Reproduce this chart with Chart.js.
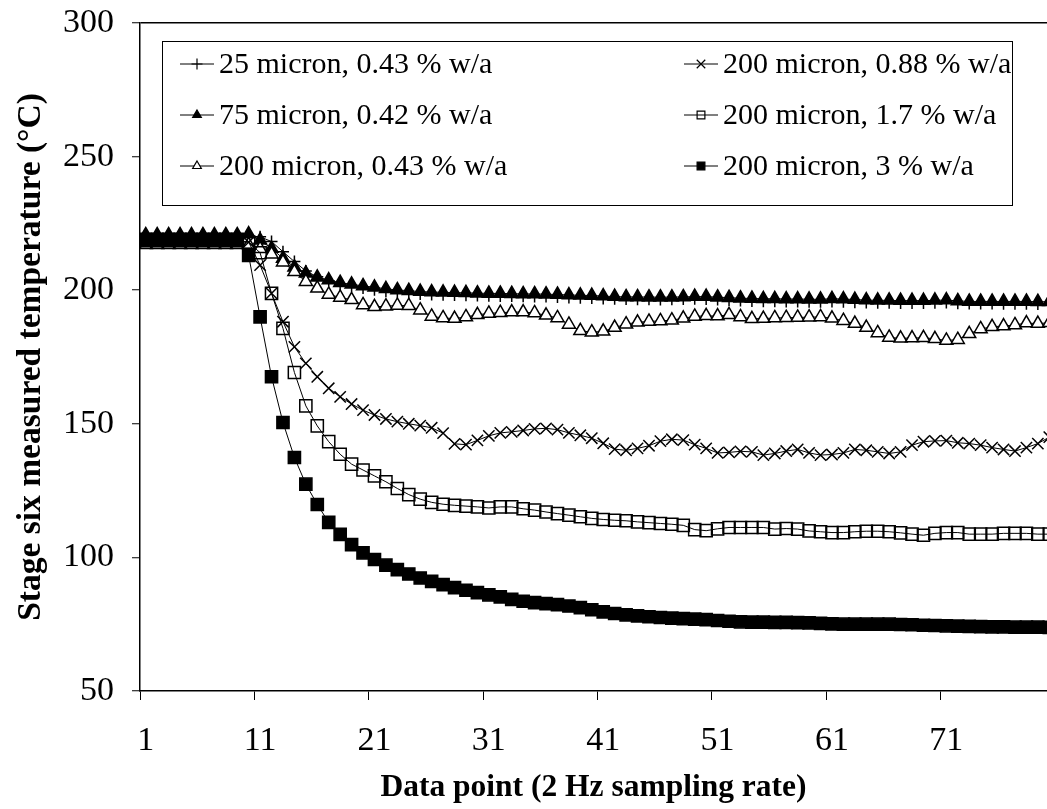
<!DOCTYPE html>
<html>
<head>
<meta charset="utf-8">
<script src="https://cdn.jsdelivr.net/npm/chart.js@4.4.0/dist/chart.umd.min.js"></script>
<style>
  html, body { margin: 0; padding: 0; background: #fff; overflow: hidden; }
  canvas { display: block; }
</style>
</head>
<body>
<canvas id="myChart" width="1047" height="809"></canvas>
<script>
// Datenpunkte (2 Hz)
const dataPoints = [
  1, 2, 3, 4, 5, 6, 7, 8, 9, 10,
  11, 12, 13, 14, 15, 16, 17, 18, 19, 20,
  21, 22, 23, 24, 25, 26, 27, 28, 29, 30,
  31, 32, 33, 34, 35, 36, 37, 38, 39, 40,
  41, 42, 43, 44, 45, 46, 47, 48, 49, 50,
  51, 52, 53, 54, 55, 56, 57, 58, 59, 60,
  61, 62, 63, 64, 65, 66, 67, 68, 69, 70,
  71, 72, 73, 74, 75, 76, 77, 78, 79, 80
];
const xTickPositions = [0.5, 10.5, 20.5, 30.5, 40.5, 50.5, 60.5, 70.5];
const xTickLabels = ['1', '11', '21', '31', '41', '51', '61', '71'];

const seriesLabels = [
  '25 micron, 0.43 % w/a',
  '75 micron, 0.42 % w/a',
  '200 micron, 0.43 % w/a',
  '200 micron, 0.88 % w/a',
  '200 micron, 1.7 % w/a',
  '200 micron, 3 % w/a'
];

// 25 micron, 0.43 % w/a
const temp25_043 = [
  219.5, 219.5, 219.5, 219.5, 219.5, 219.5, 219.5, 219.5, 219.5, 220,
  220, 218.2, 214.4, 210.7, 207.2, 205, 203.5, 202.3, 201.5, 200.8,
  200.2, 199.6, 199.2, 198.9, 198.6, 198.4, 198.3, 198.2, 198.1, 198,
  197.9, 197.8, 197.8, 197.7, 197.6, 197.6, 197.5, 197.3, 197.2, 197.1,
  196.9, 196.8, 196.7, 196.6, 196.6, 196.5, 196.6, 196.7, 196.8, 196.7,
  196.5, 196.3, 196.1, 196, 195.9, 195.9, 195.8, 195.8, 195.7, 195.7,
  195.8, 195.7, 195.5, 195.4, 195.3, 195.3, 195.2, 195.2, 195.2, 195.3,
  195.4, 195.1, 195, 195, 195, 194.9, 194.9, 194.9, 194.8, 194.8
];
// 75 micron, 0.42 % w/a
const temp75_042 = [
  220.7, 220.7, 220.7, 220.7, 220.7, 220.7, 220.7, 220.7, 220.7, 221,
  218.7, 215.6, 211.9, 208.6, 206.3, 204.8, 203.8, 202.8, 202.2, 201.6,
  201.1, 200.5, 200.1, 199.8, 199.5, 199.3, 199.2, 199.1, 199, 198.9,
  198.8, 198.8, 198.7, 198.6, 198.6, 198.5, 198.4, 198.2, 198.1, 198,
  197.8, 197.6, 197.5, 197.5, 197.4, 197.4, 197.4, 197.5, 197.6, 197.6,
  197.4, 197.2, 197, 196.9, 196.8, 196.8, 196.7, 196.7, 196.6, 196.6,
  196.8, 196.7, 196.5, 196.3, 196.2, 196.2, 196.1, 196.1, 196.1, 196.2,
  196.3, 196, 195.8, 195.8, 195.8, 195.8, 195.8, 195.8, 195.7, 195.7
];
// 200 micron, 0.43 % w/a
const temp200_043 = [
  217, 217, 217, 217, 217, 217, 217, 217, 217, 217,
  215.5, 213.5, 210.5, 206.9, 203.2, 200.7, 198.4, 197.3, 196.4, 194.5,
  193.8, 194, 194.3, 194.2, 192.5, 190.2, 189.6, 189.4, 190, 190.8,
  191.3, 191.6, 191.8, 191.8, 191.5, 190.6, 189.6, 187.2, 184.8, 184.3,
  184.6, 186, 187.3, 188, 188.3, 188.5, 188.8, 189.5, 190.2, 190.4,
  190.3, 190.8, 190, 189.3, 189.4, 189.6, 189.7, 189.8, 189.9, 190,
  189.5, 188.6, 187.5, 186, 184, 182.3, 182, 182.1, 182.2, 181.8,
  181.2, 181.5, 183.7, 185.5, 186.3, 186.6, 187, 187.7, 187.5, 187.8
];
// 200 micron, 0.88 % w/a
const temp200_088 = [
  218, 218, 218, 218, 218, 218, 218, 218, 218, 218,
  209.4, 198.8, 188.2, 178.8, 172.6, 167.6, 163.3, 160.1, 157.4, 155.1,
  153.3, 151.8, 150.8, 150, 149.3, 148.5, 146.5, 142.5, 142.2, 143.8,
  145.5, 146.6, 147, 147.5, 148.1, 148.3, 147.8, 146.6, 145.7, 144.6,
  142.7, 140.5, 140.1, 140.8, 141.8, 143.5, 144.2, 143.9, 142.2, 140.8,
  139.1, 139.3, 139.7, 139.5, 138.3, 138.9, 139.8, 140.4, 139.1, 138.3,
  138.5, 139.1, 140.4, 140.1, 139.5, 138.9, 139.5, 142, 143.3, 143.6,
  143.7, 142.9, 142.6, 142, 141.1, 140.4, 139.8, 141.1, 142.6, 145
];
// 200 micron, 1.7 % w/a
const temp200_17 = [
  218.5, 218.5, 218.5, 218.5, 218.5, 218.5, 218.5, 218.5, 218.5, 218,
  214, 198.8, 185.7, 169.2, 156.7, 149.2, 143.3, 138.6, 134.9, 132.7,
  130.5, 128.3, 125.8, 123.5, 121.8, 120.6, 119.9, 119.5, 119.2, 118.9,
  118.5, 118.9, 118.9, 118.2, 117.7, 117, 116.4, 115.8, 115.2, 114.6,
  114.2, 113.9, 113.7, 113.3, 113, 112.7, 112.4, 112, 110.4, 110,
  110.7, 111.2, 111.2, 111.2, 111.2, 110.6, 110.8, 110.6, 109.9, 109.6,
  109.3, 109.3, 109.6, 109.8, 109.8, 109.6, 109.2, 108.7, 108.3, 109,
  109.3, 109.3, 108.7, 108.7, 108.7, 109, 109, 109, 108.7, 108.7
];
// 200 micron, 3 % w/a
const temp200_3 = [
  219, 219, 219, 219, 219, 219, 219, 219, 219, 213,
  190, 167.6, 150.5, 137.4, 127.4, 119.8, 113.1, 108.6, 104.8, 101.7,
  99.2, 97.1, 95.4, 93.8, 92.3, 91, 89.8, 88.7, 87.7, 86.8,
  86, 85.2, 84.3, 83.6, 83.1, 82.7, 82.3, 81.8, 81.2, 80.4,
  79.6, 79, 78.5, 78.1, 77.8, 77.5, 77.3, 77.1, 76.9, 76.7,
  76.4, 76.1, 75.9, 75.8, 75.8, 75.7, 75.7, 75.6, 75.5, 75.3,
  75.1, 75, 75, 75, 75, 75, 74.9, 74.8, 74.6, 74.5,
  74.4, 74.3, 74.2, 74.1, 74, 74, 73.9, 73.9, 73.9, 73.8
];

const seriesValues = [temp25_043, temp75_042, temp200_043, temp200_088, temp200_17, temp200_3];

// Markierungen wie im Excel-Original
const markerStyles = [
  { pointStyle: 'cross', radius: 6, fill: '#000', legendRadius: 5.5 },
  { pointStyle: 'triangle', radius: 7.5, fill: '#000', legendRadius: 5 },
  { pointStyle: 'triangle', radius: 7.5, fill: '#fff', legendRadius: 5 },
  { pointStyle: 'crossRot', radius: 8, fill: '#000', legendRadius: 6 },
  { pointStyle: 'rect', radius: 8.6, fill: 'rgba(0,0,0,0)', legendRadius: 5.5 },
  { pointStyle: 'rect', radius: 8.6, fill: '#000', legendRadius: 5.5 }
];

const FONT = '"Liberation Serif", "Times New Roman", serif';

const datasets = seriesValues.map((values, i) => ({
  label: seriesLabels[i],
  data: dataPoints.map((x, j) => ({ x: x, y: values[j] })),
  borderColor: '#000',
  borderWidth: 1,
  pointStyle: markerStyles[i].pointStyle,
  pointRadius: markerStyles[i].radius,
  pointBackgroundColor: markerStyles[i].fill,
  pointBorderColor: '#000',
  pointBorderWidth: 1.5,
  tension: 0,
  order: seriesValues.length - i
}));

// Legende im Diagrammbereich (2 Spalten, Rahmen)
const boxLegend = {
  id: 'boxLegend',
  afterDraw(chart) {
    const ctx = chart.ctx;
    const a = chart.chartArea;
    const bx = a.left + 22, by = a.top + 18, bw = 850, bh = 164;
    ctx.save();
    ctx.fillStyle = '#fff';
    ctx.fillRect(bx, by, bw, bh);
    ctx.strokeStyle = '#000';
    ctx.lineWidth = 1;
    ctx.strokeRect(bx + 0.5, by + 0.5, bw, bh);
    ctx.font = '30px ' + FONT;
    ctx.textBaseline = 'middle';
    ctx.textAlign = 'left';
    chart.data.datasets.forEach((ds, i) => {
      const col = Math.floor(i / 3), row = i % 3;
      const lx = col === 0 ? bx + 18 : bx + 522;
      const ly = by + 23 + row * 51;
      ctx.strokeStyle = '#000';
      ctx.lineWidth = 1;
      ctx.beginPath();
      ctx.moveTo(lx, ly);
      ctx.lineTo(lx + 34, ly);
      ctx.stroke();
      ctx.fillStyle = markerStyles[i].fill;
      ctx.lineWidth = 1.2;
      Chart.helpers.drawPoint(ctx, {
        pointStyle: markerStyles[i].pointStyle,
        radius: markerStyles[i].legendRadius,
        rotation: 0,
        borderWidth: 1.2
      }, lx + 17, ly);
      ctx.fillStyle = '#000';
      ctx.fillText(ds.label, lx + 39, ly + 1);
    });
    ctx.restore();
  }
};

const ctx = document.getElementById('myChart').getContext('2d');

new Chart(ctx, {
  type: 'line',
  data: { datasets: datasets },
  options: {
    responsive: false,
    animation: false,
    devicePixelRatio: 1,
    layout: { autoPadding: false, padding: { top: 23, right: 0, bottom: 0, left: 0 } },
    plugins: {
      legend: { display: false },
      tooltip: { enabled: false }
    },
    scales: {
      x: {
        type: 'linear',
        min: 0.5,
        max: 79.8,
        afterBuildTicks: s => { s.ticks = xTickPositions.map(v => ({ value: v })); },
        afterFit: s => { s.height = 118; s.paddingLeft = 0; s.paddingRight = 0; },
        border: { color: '#000', width: 1.5 },
        grid: { drawOnChartArea: false, drawTicks: true, tickLength: 9, tickColor: '#000', tickWidth: 1 },
        ticks: {
          callback: (v, i) => xTickLabels[i],
          labelOffset: 5.7,
          padding: 21,
          maxRotation: 0,
          autoSkip: false,
          color: '#000',
          font: { family: FONT, size: 34 }
        },
        title: {
          display: true,
          text: 'Data point (2 Hz sampling rate)',
          color: '#000',
          font: { family: FONT, size: 31.5, weight: 'bold' },
          padding: { top: 0, bottom: 2 }
        }
      },
      y: {
        min: 50,
        max: 300,
        afterFit: s => { s.width = 140; s.paddingTop = 0; s.paddingBottom = 0; },
        border: { color: '#000', width: 1.5 },
        grid: {
          color: c => (c.tick && c.tick.value === 300 ? '#000' : 'rgba(0,0,0,0)'),
          lineWidth: 1.5,
          tickColor: '#000',
          tickLength: 8,
          tickWidth: 1
        },
        ticks: {
          stepSize: 50,
          padding: 18,
          color: '#000',
          font: { family: FONT, size: 34 }
        },
        title: {
          display: true,
          text: 'Stage six measured temperature (°C)',
          color: '#000',
          font: { family: FONT, size: 33.5, weight: 'bold' },
          padding: { top: 11, bottom: 0 }
        }
      }
    }
  },
  plugins: [boxLegend]
});
</script>
</body>
</html>
